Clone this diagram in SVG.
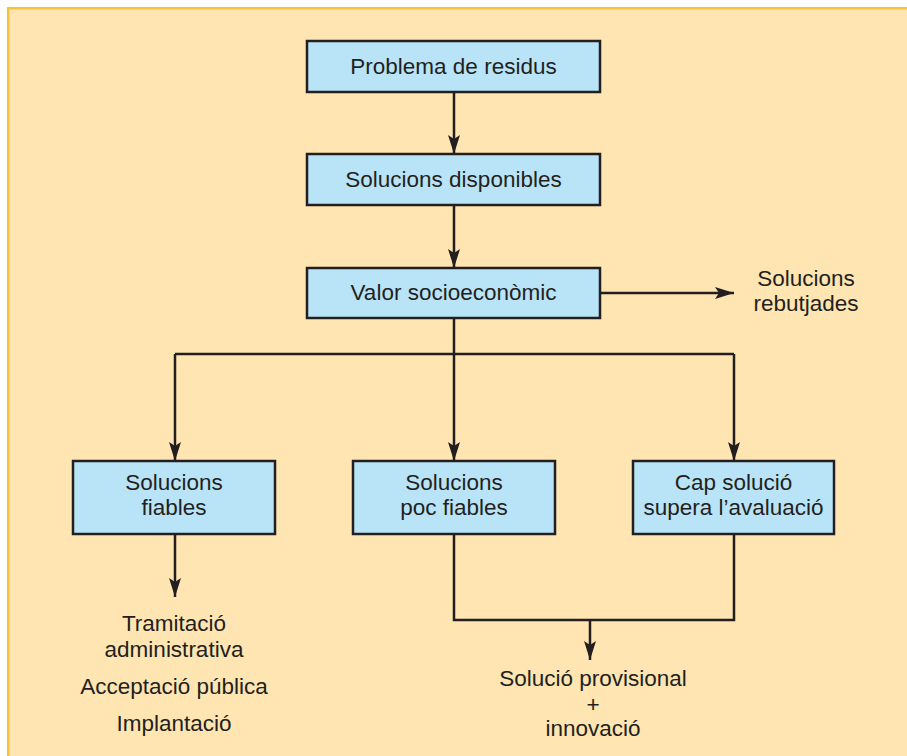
<svg xmlns="http://www.w3.org/2000/svg" width="907" height="756" viewBox="0 0 907 756">
  <defs>
    <marker id="arrow" markerUnits="userSpaceOnUse" markerWidth="20" markerHeight="14" viewBox="0 0 20 14" refX="19" refY="7" orient="auto">
      <path d="M0,1 L19,7 L0,13 L4,7 Z" fill="#231f20"/>
    </marker>
  </defs>
  <style>
    .panel { fill: #fee5b1; stroke: #f8c33a; stroke-width: 2.5; }
    .box { fill: #b9e4f8; stroke: #231f20; stroke-width: 2.5; }
    .lbl { font-family: "Liberation Sans", Arial, sans-serif; font-size: 22.5px; fill: #231f20; text-anchor: middle; }
    .wire { fill: none; stroke: #231f20; stroke-width: 2.5; }
    .arr { marker-end: url(#arrow); }
  </style>

  <rect x="0" y="0" width="907" height="756" fill="#ffffff"/>
  <rect class="panel" x="8.25" y="8.25" width="920" height="770"/>

  <g id="connectors">
    <line class="wire arr" x1="454" y1="92" x2="454" y2="154"/>
    <line class="wire arr" x1="454" y1="205" x2="454" y2="268"/>
    <line class="wire arr" x1="600" y1="293" x2="734" y2="293"/>
    <line class="wire" x1="454" y1="318" x2="454" y2="354"/>
    <polyline class="wire" points="175,354 734,354"/>
    <line class="wire arr" x1="175" y1="354" x2="175" y2="461"/>
    <line class="wire arr" x1="454" y1="354" x2="454" y2="461"/>
    <line class="wire arr" x1="734" y1="354" x2="734" y2="461"/>
    <line class="wire arr" x1="175" y1="534" x2="175" y2="597"/>
    <polyline class="wire" points="454,534 454,620 734,620 734,534"/>
    <line class="wire arr" x1="590" y1="620" x2="590" y2="660"/>
  </g>

  <g id="problema">
    <rect class="box" x="307" y="41" width="293" height="51"/>
    <text class="lbl" x="453.5" y="74">Problema de residus</text>
  </g>

  <g id="disponibles">
    <rect class="box" x="307" y="154" width="293" height="51"/>
    <text class="lbl" x="453.5" y="187">Solucions disponibles</text>
  </g>

  <g id="valor">
    <rect class="box" x="307" y="268" width="293" height="50"/>
    <text class="lbl" x="453.5" y="300">Valor socioeconòmic</text>
  </g>

  <g id="rebutjades">
    <text class="lbl" x="806" y="286">Solucions</text>
    <text class="lbl" x="806" y="311">rebutjades</text>
  </g>

  <g id="fiables">
    <rect class="box" x="73" y="461" width="202" height="73"/>
    <text class="lbl" x="174" y="490">Solucions</text>
    <text class="lbl" x="174" y="515">fiables</text>
  </g>

  <g id="poc-fiables">
    <rect class="box" x="353" y="461" width="202" height="73"/>
    <text class="lbl" x="454" y="490">Solucions</text>
    <text class="lbl" x="454" y="515">poc fiables</text>
  </g>

  <g id="cap-solucio">
    <rect class="box" x="633" y="461" width="201" height="73"/>
    <text class="lbl" x="733.5" y="490">Cap solució</text>
    <text class="lbl" x="733.5" y="515">supera l’avaluació</text>
  </g>

  <g id="tramitacio">
    <text class="lbl" x="174" y="631">Tramitació</text>
    <text class="lbl" x="174" y="657">administrativa</text>
    <text class="lbl" x="174" y="694">Acceptació pública</text>
    <text class="lbl" x="174" y="731">Implantació</text>
  </g>

  <g id="provisional">
    <text class="lbl" x="593" y="686">Solució provisional</text>
    <text class="lbl" x="593" y="712">+</text>
    <text class="lbl" x="593" y="736">innovació</text>
  </g>
</svg>
